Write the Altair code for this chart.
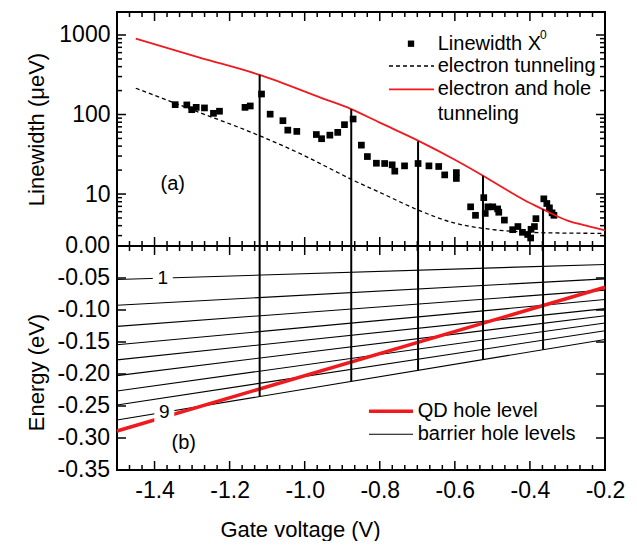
import altair as alt
import pandas as pd

FONT = "Liberation Sans"
RED = "#f0191e"

# ---------------- Panel (a): linewidth vs gate voltage ----------------
meas_V = [-1.345, -1.314, -1.301, -1.289, -1.267, -1.243, -1.227, -1.159, -1.145, -1.115,
          -1.092, -1.058, -1.045, -1.021, -0.969, -0.955, -0.933, -0.912, -0.894, -0.871,
          -0.849, -0.833, -0.809, -0.787, -0.767, -0.760, -0.734, -0.698, -0.669, -0.643,
          -0.627, -0.596, -0.596, -0.558, -0.545, -0.523, -0.519, -0.512, -0.499, -0.486,
          -0.483, -0.468, -0.446, -0.432, -0.420, -0.406, -0.398, -0.397, -0.388, -0.384,
          -0.363, -0.355, -0.348, -0.341, -0.336]
meas_lw = [133, 132, 115, 123, 121, 103.5, 110, 123, 128, 181,
           101, 83.6, 63.6, 61.3, 56, 49.6, 55, 59.6, 74.5, 87.8,
           41.2, 29.6, 24.4, 24.2, 23.3, 19.4, 22.6, 24.2, 22.6, 22.2,
           17.4, 18.6, 15.7, 6.9, 5.4, 9.0, 5.7, 6.9, 6.9, 6.5,
           5.9, 4.7, 3.56, 3.9, 3.3, 3.1, 2.8, 3.6, 3.9, 4.9,
           8.7, 7.6, 6.7, 5.8, 5.4]

eh_V = [-1.45, -1.28, -1.12, -0.956, -0.876, -0.8, -0.698, -0.6, -0.525,
        -0.458, -0.4, -0.365, -0.298, -0.25, -0.2]
eh_lw = [900, 520, 315, 162, 117, 79, 47, 27, 17,
         11, 7.7, 6.4, 4.6, 4.0, 3.5]

e_V = [-1.45, -1.3, -1.12, -1.009, -0.929, -0.876, -0.8, -0.698, -0.6, -0.525,
       -0.45, -0.365, -0.2]
e_lw = [214, 115, 54, 31.7, 20.5, 15.3, 10.5, 6.3, 4.3, 3.7,
        3.4, 3.26, 3.2]

vert_V = [-1.12, -0.876, -0.698, -0.525, -0.365]
vert_top = [315, 117, 46, 17, 6.4]
vert_bottom = [-0.2352, -0.2116, -0.1944, -0.1776, -0.162]

# ---------------- Panel (b): energy levels ----------------
level_names = ["1", "2", "3", "4", "5", "6", "7", "8", "9"]
level_left = [-0.0523, -0.0926, -0.1256, -0.1544, -0.1779, -0.2025, -0.2266, -0.2485, -0.272]
level_right = [-0.0288, -0.0513, -0.069, -0.0837, -0.0979, -0.1089, -0.1204, -0.1324, -0.146]
level_V_ends = [-1.5, -0.2]
qd_V = [-1.5, -0.2]
qd_E = [-0.289, -0.0645]
lab_text = ["1", "9"]
lab_V = [-1.378, -1.374]
lab_E = [-0.050, -0.2598]

# ---------------- ticks ----------------
x_major = [-1.4, -1.2, -1.0, -0.8, -0.6, -0.4, -0.2]
x_minor = [round(-1.5 + k / 30, 4) for k in range(1, 39) if k % 6 != 3]
ya_major = [10, 100, 1000]
ya_minor = [3, 4, 5, 6, 7, 8, 9, 20, 30, 40, 50, 60, 70, 80, 90,
            200, 300, 400, 500, 600, 700, 800, 900]
yb_major = [0.0, -0.05, -0.10, -0.15, -0.20, -0.25, -0.30, -0.35]

W, HA, HB = 488, 234, 224
MAJ, MIN = 9, 5

xs = alt.Scale(domain=[-1.5, -0.2], nice=False, zero=False)
ysa = alt.Scale(type="log", domain=[2.22, 1946], nice=False)
ysb = alt.Scale(domain=[-0.35, 0.0], nice=False, zero=False)

minus_fix = "replace(datum.label, '\u2212', '-')"

one = pd.DataFrame({"d": [0]})


def X(scale, top):
    if top:
        return alt.X("V:Q", scale=scale, axis=None)
    return alt.X("V:Q", scale=scale)


def xticks(vals, h, size, scale, top_panel):
    df = pd.DataFrame({"V": vals})
    base = alt.Chart(df).mark_rule(color="black", strokeWidth=1.5)
    top = base.encode(x=X(scale, top_panel), y=alt.value(0), y2=alt.value(size))
    bot = base.encode(x=X(scale, top_panel), y=alt.value(h), y2=alt.value(h - size))
    return [top, bot]


def yticks(vals, field, scale, size):
    df = pd.DataFrame({field: vals})
    base = alt.Chart(df).mark_rule(color="black", strokeWidth=1.5)
    left = base.encode(y=alt.Y(f"{field}:Q", scale=scale),
                       x=alt.value(0), x2=alt.value(size))
    right = base.encode(y=alt.Y(f"{field}:Q", scale=scale),
                        x=alt.value(W), x2=alt.value(W - size))
    return [left, right]


def txt(s, x, y, size=20, align="left"):
    return alt.Chart(one).mark_text(font=FONT, fontSize=size, align=align,
                                    baseline="middle", color="black").encode(
        x=alt.value(x), y=alt.value(y), text=alt.value(s))


def hline(x1, x2, y, color, width, dash=None):
    kw = dict(color=color, strokeWidth=width)
    if dash:
        kw["strokeDash"] = dash
    return alt.Chart(one).mark_rule(**kw).encode(
        x=alt.value(x1), x2=alt.value(x2), y=alt.value(y))


# ----- panel (a) layers -----
df_meas = pd.DataFrame({"V": meas_V, "lw": meas_lw})
df_eh = pd.DataFrame({"V": eh_V, "lw": eh_lw})
df_e = pd.DataFrame({"V": e_V, "lw": e_lw})
df_vert = pd.DataFrame({"V": vert_V, "lw": vert_top, "E": vert_bottom})

a_pts = alt.Chart(df_meas).mark_square(size=45, color="black", opacity=1).encode(
    x=X(xs, True),
    y=alt.Y("lw:Q", scale=ysa, axis=alt.Axis(
        values=ya_major, format="d", ticks=False, domain=False, grid=False,
        labelPadding=7, labelFlush=False, labelOverlap=False,
        title="Linewidth (\u03bceV)", titleX=-81, titleY=117,
        titleBaseline="middle", titleAngle=-90)))
a_e = alt.Chart(df_e).mark_line(color="black", strokeWidth=1.3, strokeDash=[4, 3],
                                interpolate="monotone").encode(
    x=X(xs, True), y=alt.Y("lw:Q", scale=ysa))
a_eh = alt.Chart(df_eh).mark_line(color=RED, strokeWidth=1.8,
                                  interpolate="monotone").encode(
    x=X(xs, True), y=alt.Y("lw:Q", scale=ysa))
a_vert = alt.Chart(df_vert).mark_rule(color="black", strokeWidth=2).encode(
    x=X(xs, True), y=alt.Y("lw:Q", scale=ysa), y2=alt.value(HA))

a_layers = [a_pts, a_e, a_eh, a_vert]
a_layers += xticks(x_major, HA, MAJ, xs, True) + xticks(x_minor, HA, MIN, xs, True)
a_layers += yticks(ya_major, "lw", ysa, MAJ) + yticks(ya_minor, "lw", ysa, MIN)
a_layers += [
    alt.Chart(one).mark_square(size=40, color="black", opacity=1).encode(
        x=alt.value(294), y=alt.value(31.7)),
    txt("Linewidth X", 320.7, 31.7),
    txt("0", 423, 23, size=12),
    hline(272, 317, 54, "black", 1.3, [4, 3]),
    txt("electron tunneling", 320.7, 54),
    hline(272, 317, 77.3, RED, 1.8),
    txt("electron and hole", 320.7, 77.3),
    txt("tunneling", 320.7, 101.7),
    txt("(a)", 55.7, 171.7, align="center"),
]
panel_a = alt.layer(*a_layers).properties(width=W, height=HA)

# ----- panel (b) layers -----
rows = []
for name, l, r in zip(level_names, level_left, level_right):
    rows.append({"level": name, "V": level_V_ends[0], "E": l})
    rows.append({"level": name, "V": level_V_ends[1], "E": r})
df_lev = pd.DataFrame(rows)
df_qd = pd.DataFrame({"V": qd_V, "E": qd_E})
df_lab = pd.DataFrame({"V": lab_V, "E": lab_E, "t": lab_text})
df_yb = pd.DataFrame({"E": yb_major})

b_lev = alt.Chart(df_lev).mark_line(color="black", strokeWidth=1.1).encode(
    x=alt.X("V:Q", scale=xs, axis=alt.Axis(
        values=x_major, format=".1f", labelExpr=minus_fix, ticks=False, domain=False,
        grid=False, labelPadding=9, labelFlush=False, labelOverlap=False,
        title="Gate voltage (V)", titleX=183, titleY=59, titleBaseline="middle")),
    y=alt.Y("E:Q", scale=ysb, axis=alt.Axis(
        values=yb_major, labels=False, ticks=False, domain=False, grid=False,
        title="Energy (eV)", titleX=-81, titleY=126, titleBaseline="middle",
        titleAngle=-90)),
    detail="level:N")
b_qd = alt.Chart(df_qd).mark_line(color=RED, strokeWidth=3.5).encode(
    x=X(xs, False), y=alt.Y("E:Q", scale=ysb))
b_bg = alt.Chart(df_lab).mark_square(color="white", opacity=1, size=400).encode(
    x=X(xs, False), y=alt.Y("E:Q", scale=ysb))
b_txt = alt.Chart(df_lab).mark_text(font=FONT, fontSize=19, color="black",
                                    baseline="middle").encode(
    x=X(xs, False), y=alt.Y("E:Q", scale=ysb), text="t:N")
b_vert = alt.Chart(df_vert).mark_rule(color="black", strokeWidth=2).encode(
    x=X(xs, False), y=alt.Y("E:Q", scale=ysb), y2=alt.value(0))
b_ylab = alt.Chart(df_yb).transform_calculate(
    lab="replace(format(datum.E, '.2f'), '\u2212', '-')"
).mark_text(font=FONT, fontSize=23, color="black", align="right",
            baseline="middle").encode(
    y=alt.Y("E:Q", scale=ysb), x=alt.value(-7), text="lab:N")

b_layers = [b_lev, b_qd, b_bg, b_txt, b_vert, b_ylab]
b_layers += xticks(x_major, HB, MAJ, xs, False) + xticks(x_minor, HB, MIN, xs, False)
b_layers += yticks(yb_major, "E", ysb, MAJ)
b_layers += [
    hline(252, 296, 165.3, RED, 3.5),
    txt("QD hole level", 300.7, 165.3),
    hline(252, 296, 188.3, "black", 1.1),
    txt("barrier hole levels", 300.7, 188.3),
    txt("(b)", 66.7, 196.7, align="center"),
]
panel_b = alt.layer(*b_layers).properties(width=W, height=HB)

chart = alt.vconcat(panel_a, panel_b, spacing=0, bounds="flush").properties(
    padding={"left": 23, "top": 10, "right": 0, "bottom": 0}
).configure_view(stroke="black", strokeWidth=2).configure_axis(
    labelFont=FONT, titleFont=FONT, labelFontSize=23, titleFontSize=22,
    labelColor="black", titleColor="black", titleFontWeight="normal",
    labelOverlap=False, labelFlush=False
).configure_concat(spacing=0)

chart.save("out.html", embed_options={"renderer": "svg", "actions": False})
